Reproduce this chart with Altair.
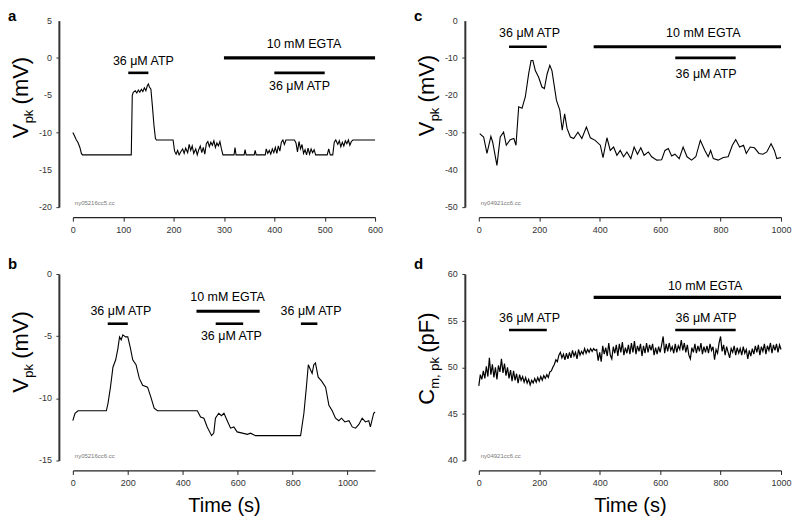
import altair as alt
import pandas as pd

FONT = "Liberation Sans"

# ---------------- Panel a : Vpk (mV), 0-600 s ----------------
a_time = [0, 3, 7, 10, 14, 17, 19, 116, 118, 120, 124, 127, 130, 133, 136, 139, 142, 145, 148, 150,
          152, 155, 158, 161, 164, 166, 199, 202, 205, 208, 211, 214, 218, 221, 224, 228, 231, 234,
          237, 240, 244, 247, 250, 253, 256, 259, 262, 265, 268, 271, 274, 277, 280, 283, 286, 289,
          292, 295, 298, 320, 322, 324, 340, 342, 344, 360, 362, 364, 382, 384, 387, 390, 393, 396,
          399, 402, 405, 408, 411, 414, 417, 420, 423, 440, 443, 446, 449, 452, 455, 458, 461, 464,
          467, 470, 473, 476, 479, 482, 505, 508, 511, 516, 519, 522, 526, 529, 532, 535, 538, 541,
          544, 547, 550, 553, 556, 600]
a_vpk = [-10.0, -10.4, -11.0, -11.3, -12.0, -12.8, -13.0, -13.0, -5.0, -4.6, -4.4, -4.7, -4.3, -4.6,
         -4.2, -4.5, -4.0, -4.4, -3.7, -3.5, -3.9, -4.2, -6.5, -9.0, -10.8, -11.0, -11.0, -12.5, -12.9,
         -12.4, -13.0, -12.6, -12.2, -12.8, -12.1, -12.7, -11.6, -12.4, -11.8, -12.8, -12.2, -13.0,
         -12.3, -11.8, -12.7, -12.0, -12.9, -11.5, -11.2, -11.9, -11.3, -11.7, -11.1, -12.0, -11.4,
         -11.8, -11.2, -12.2, -13.0, -13.0, -12.0, -13.0, -13.0, -12.3, -13.0, -13.0, -12.4, -13.0,
         -13.0, -12.2, -12.8, -12.4, -12.9, -12.2, -12.7, -12.0, -12.8, -11.8, -12.5, -11.3, -11.0,
         -11.6, -11.0, -11.0, -11.4, -12.6, -11.2, -12.2, -11.6, -12.8, -12.3, -13.0, -12.1, -12.9,
         -12.2, -12.7, -12.3, -13.0, -13.0, -12.2, -13.0, -13.0, -11.3, -11.0, -11.6, -11.1, -11.9,
         -11.3, -11.8, -11.1, -11.5, -11.0, -11.7, -11.2, -11.0, -11.0]
a_bar_start = [110, 300, 400]
a_bar_end = [150, 600, 500]
a_bar_level = [-2, 0, -2]
a_bar_kind = ["ATP", "EGTA", "ATP"]
a_label_text = ["36 \u03bcM ATP", "10 mM EGTA", "36 \u03bcM ATP"]
a_label_t = [140, 459, 450]
a_label_v = [-0.35, 1.9, -3.7]

# ---------------- Panel b : Vpk (mV), 0-1100 s ----------------
b_time = [0, 8, 19, 122, 128, 137, 146, 156, 164, 170, 176, 182, 192, 200, 209, 218, 230, 242, 254,
          272, 284, 296, 308, 441, 453, 465, 477, 489, 505, 513, 519, 531, 541, 550, 562, 574, 586,
          598, 617, 635, 647, 665, 829, 841, 850, 857, 865, 871, 877, 883, 893, 905, 920, 932, 944,
          956, 968, 978, 990, 1005, 1017, 1029, 1041, 1053, 1065, 1077, 1083, 1095, 1100]
b_vpk = [-11.8, -11.2, -11.0, -11.0, -10.4, -9.1, -7.5, -6.9, -6.0, -5.06, -5.3, -4.9, -5.06, -5.06,
         -5.9, -6.9, -7.3, -8.4, -8.95, -9.1, -9.9, -10.8, -11.0, -11.0, -11.0, -11.5, -11.6, -12.3,
         -13.0, -12.8, -11.6, -11.2, -11.4, -11.2, -11.8, -12.4, -12.3, -12.7, -12.8, -12.9, -12.8,
         -13.0, -13.0, -11.2, -9.1, -7.3, -7.7, -8.0, -7.3, -7.15, -8.3, -8.6, -9.1, -10.56, -11.0,
         -11.6, -11.8, -11.6, -11.9, -11.8, -12.3, -12.4, -12.1, -11.6, -11.9, -11.8, -12.3, -11.2,
         -11.1]
b_bar_start = [127, 450, 520, 830]
b_bar_end = [200, 680, 620, 890]
b_bar_level = [-4, -3, -4, -4]
b_bar_kind = ["ATP", "EGTA", "ATP", "ATP"]
b_label_text = ["36 \u03bcM ATP", "10 mM EGTA", "36 \u03bcM ATP", "36 \u03bcM ATP"]
b_label_t = [175, 563, 577, 867]
b_label_v = [-3.0, -1.85, -5.0, -3.0]

# ---------------- Panel c : Vpk (mV), 0-1000 s ----------------
c_time = [3, 16, 27, 40, 46, 60, 71, 82, 91, 104, 116, 123, 132, 143, 154, 165, 173, 179, 187, 198,
          209, 217, 226, 235, 242, 257, 268, 276, 284, 292, 303, 314, 328, 341, 356, 369, 385, 402,
          411, 424, 435, 446, 457, 468, 479, 490, 503, 514, 525, 536, 547, 561, 572, 589, 605, 616,
          627, 638, 649, 663, 676, 689, 704, 718, 733, 748, 759, 767, 776, 792, 809, 825, 839, 850,
          863, 876, 885, 898, 912, 927, 940, 953, 967, 978, 986, 1000]
c_vpk = [-30.3, -31.2, -35.6, -31.0, -32.6, -38.8, -31.2, -29.9, -33.4, -31.9, -31.6, -33.4, -23.1,
         -23.5, -20.4, -14.2, -10.7, -10.7, -13.4, -15.2, -17.8, -18.2, -14.3, -12.0, -13.4, -21.4,
         -24.0, -29.4, -25.0, -28.9, -31.2, -31.6, -29.9, -31.6, -28.5, -31.4, -32.1, -33.4, -36.7,
         -31.4, -34.8, -33.9, -36.1, -34.8, -36.5, -35.2, -37.0, -33.9, -35.8, -34.1, -36.1, -35.2,
         -36.5, -37.4, -37.3, -34.8, -34.3, -36.3, -35.8, -37.0, -33.9, -36.5, -37.4, -36.5, -32.1,
         -34.8, -36.5, -34.8, -37.0, -37.4, -36.7, -36.5, -33.4, -31.9, -33.9, -33.4, -35.6, -33.9,
         -34.1, -35.6, -35.8, -35.2, -33.0, -34.8, -37.0, -36.7]
c_bar_start = [100, 380, 650]
c_bar_end = [225, 1000, 850]
c_bar_level = [-7, -7, -10]
c_bar_kind = ["ATP", "EGTA", "ATP"]
c_label_text = ["36 \u03bcM ATP", "10 mM EGTA", "36 \u03bcM ATP"]
c_label_t = [168, 743, 752]
c_label_v = [-3.2, -3.2, -14.4]

# ---------------- Panel d : Cm,pk (pF), 0-1000 s ----------------
d_time = [0, 5, 10, 15, 20, 25, 30, 35, 40, 45, 50, 55, 60, 65, 70, 75, 80, 85, 90, 95,
          100, 105, 110, 115, 120, 125, 130, 135, 140, 145, 150, 155, 160, 165, 170, 175, 180, 185, 190, 195,
          200, 205, 210, 215, 220, 225, 230, 235, 240, 245, 250, 255, 260, 265, 270, 275, 280, 285, 290, 295,
          300, 305, 310, 315, 320, 325, 330, 335, 340, 345, 350, 355, 360, 365, 370, 375, 380, 385, 390, 395,
          400, 405, 410, 415, 420, 425, 430, 435, 440, 445, 450, 455, 460, 465, 470, 475, 480, 485, 490, 495,
          500, 505, 510, 515, 520, 525, 530, 535, 540, 545, 550, 555, 560, 565, 570, 575, 580, 585, 590, 595,
          600, 605, 610, 615, 620, 625, 630, 635, 640, 645, 650, 655, 660, 665, 670, 675, 680, 685, 690, 695,
          700, 705, 710, 715, 720, 725, 730, 735, 740, 745, 750, 755, 760, 765, 770, 775, 780, 785, 790, 795,
          800, 805, 810, 815, 820, 825, 830, 835, 840, 845, 850, 855, 860, 865, 870, 875, 880, 885, 890, 895,
          900, 905, 910, 915, 920, 925, 930, 935, 940, 945, 950, 955, 960, 965, 970, 975, 980, 985, 990, 995,
          1000]
d_cm = [48.0, 49.2, 48.7, 49.6, 48.8, 50.1, 49.0, 51.0, 49.2, 50.3, 48.9, 50.0, 48.7, 50.2, 49.5, 50.9, 49.4, 50.4, 49.1, 50.0,
        48.8, 49.7, 48.5, 49.6, 48.6, 49.3, 48.3, 49.2, 48.6, 49.0, 48.4, 48.9, 48.3, 48.7, 48.1, 48.6, 48.3, 48.8, 48.4, 48.9,
        48.5, 49.0, 48.6, 49.1, 48.8, 49.2, 48.9, 49.5, 49.6, 50.0, 50.3, 50.8, 50.6, 51.3, 51.6, 51.0, 51.4, 50.8, 51.5, 50.9,
        51.6, 51.0, 51.8, 51.2, 51.6, 50.9, 51.9, 51.3, 51.7, 51.4, 52.0, 51.5, 51.9, 51.6, 52.0, 51.7, 52.0, 51.8, 51.9, 50.7,
        51.6, 50.6, 52.3, 51.4, 52.1, 51.2, 52.6, 51.3, 50.9, 52.2, 51.5, 52.4, 51.2, 52.5, 51.6, 52.7, 51.3, 52.1, 51.5, 52.4,
        51.4, 52.6, 51.6, 52.8, 51.4, 52.3, 51.7, 52.5, 51.2, 52.3, 51.5, 52.6, 51.6, 52.4, 51.8, 52.5, 51.3, 52.1, 51.4, 52.2,
        51.6, 52.4, 53.3, 51.5, 52.5, 51.7, 52.6, 51.8, 52.2, 51.5, 52.5, 51.6, 52.3, 51.9, 52.9, 51.8, 52.6, 51.6, 52.4, 51.3,
        50.9, 52.1, 51.6, 52.5, 51.5, 52.3, 51.7, 52.6, 51.4, 52.2, 51.6, 52.3, 51.5, 52.5, 51.8, 52.2, 50.8, 51.9, 51.5, 52.6,
        53.3, 51.7, 52.4, 51.3, 52.2, 51.6, 51.0, 52.0, 51.6, 52.3, 51.3, 52.1, 51.5, 52.0, 51.3, 52.2, 51.5, 51.9, 50.9, 51.8,
        51.2, 52.0, 51.4, 52.3, 51.6, 52.4, 51.3, 52.2, 51.7, 52.5, 51.4, 52.3, 51.8, 52.6, 51.5, 52.4, 51.8, 52.5, 51.6, 52.4,
        51.9]
d_bar_start = [100, 380, 650]
d_bar_end = [225, 1000, 850]
d_bar_level = [54, 57.5, 54]
d_bar_kind = ["ATP", "EGTA", "ATP"]
d_label_text = ["36 \u03bcM ATP", "10 mM EGTA", "36 \u03bcM ATP"]
d_label_t = [168, 749, 752]
d_label_v = [55.3, 58.7, 55.3]

W, H = 303, 187
LABEL_EXPR = "'' + datum.value"


def panel(time, vals, xdom, xvals, ydom, yvals, bs, be, bl, bk, lt, lx, ly,
          letter, letter_top, fid, ytitle, ybottom, xtitle, line_w=1.1):
    xs = alt.Scale(domain=xdom, nice=False, zero=False)
    ys = alt.Scale(domain=ydom, nice=False, zero=False)
    xaxis_kw = dict(values=xvals, offset=10, domainWidth=1.3, domainColor="#222",
                    tickColor="#222", tickSize=4, tickWidth=1, labelFontSize=9,
                    labelColor="#333", labelFont=FONT, labelPadding=4, labelFlush=False,
                    labelOverlap=False, grid=False, labelExpr=LABEL_EXPR)
    if xtitle:
        xaxis_kw.update(title=xtitle, titleFontSize=20, titleFont=FONT, titleFontWeight="normal",
                        titleColor="black", titlePadding=8)
    else:
        xaxis_kw.update(title=None)
    yaxis = alt.Axis(values=yvals, offset=14, domainWidth=2, domainColor="#333",
                     tickColor="#333", tickSize=3, tickWidth=1, labels=False,
                     grid=False, title=None)

    trace = alt.Chart(pd.DataFrame({"t": time, "v": vals})).mark_line(
        color="black", strokeWidth=line_w).encode(
        x=alt.X("t:Q", scale=xs, axis=alt.Axis(**xaxis_kw)),
        y=alt.Y("v:Q", scale=ys, axis=yaxis))

    bars = alt.Chart(pd.DataFrame({"t": bs, "t2": be, "v": bl, "kind": bk})).mark_rule(
        color="black").encode(
        x=alt.X("t:Q", scale=xs), x2="t2:Q", y=alt.Y("v:Q", scale=ys),
        strokeWidth=alt.StrokeWidth("kind:N", scale=alt.Scale(domain=["ATP", "EGTA"], range=[2.6, 3.2]),
                                    legend=None))

    labels = alt.Chart(pd.DataFrame({"t": lx, "v": ly, "label": lt})).mark_text(
        font=FONT, fontSize=12.5, color="black", align="center", baseline="middle").encode(
        x=alt.X("t:Q", scale=xs), y=alt.Y("v:Q", scale=ys), text="label:N")

    # y tick labels (drawn as text so that every tick keeps its label)
    ylabels = alt.Chart(pd.DataFrame({"v": yvals, "lab": [str(v) for v in yvals]})).mark_text(
        font=FONT, fontSize=9, color="#333", align="right", baseline="middle").encode(
        x=alt.value(-21), y=alt.Y("v:Q", scale=ys), text="lab:N")

    layers = [trace, bars, labels, ylabels]

    letter_l = alt.Chart(pd.DataFrame({"s": [letter]})).mark_text(
        font=FONT, fontSize=15, fontWeight="bold", align="left", baseline="top",
        color="black").encode(x=alt.value(-65), y=alt.value(letter_top), text="s:N")
    layers.append(letter_l)

    fid_l = alt.Chart(pd.DataFrame({"s": [fid]})).mark_text(
        font=FONT, fontSize=6, align="left", baseline="bottom", color="#777").encode(
        x=alt.value(2), y=alt.value(H - 1), text="s:N")
    layers.append(fid_l)

    for txt, size, dx, dy in ytitle:
        layers.append(alt.Chart(pd.DataFrame({"s": [txt]})).mark_text(
            font=FONT, fontSize=size, angle=270, align="left", baseline="alphabetic",
            color="black", dx=dx, dy=dy).encode(x=alt.value(-45), y=alt.value(ybottom), text="s:N"))

    return alt.layer(*layers).properties(width=W, height=H)


vpk_title = [("V", 22, 0, 0), ("pk", 13, 15, 5), ("(mV)", 22, 34, 0)]
cm_title = [("C", 22, 0, 0), ("m, pk", 13, 16, 5), ("(pF)", 22, 52, 0)]

pa = panel(a_time, a_vpk, [0, 600], [0, 100, 200, 300, 400, 500, 600], [-20, 5],
           [-20, -15, -10, -5, 0, 5], a_bar_start, a_bar_end, a_bar_level, a_bar_kind,
           a_label_text, a_label_t, a_label_v, "a", -12, "ny05216cc5.cc", vpk_title, 118, None)
pc = panel(c_time, c_vpk, [0, 1000], [0, 200, 400, 600, 800, 1000], [-50, 0],
           [-50, -40, -30, -20, -10, 0], c_bar_start, c_bar_end, c_bar_level, c_bar_kind,
           c_label_text, c_label_t, c_label_v, "c", -12, "ny04921cc6.cc", vpk_title, 116, None)
pb = panel(b_time, b_vpk, [0, 1100], [0, 200, 400, 600, 800, 1000], [-15, 0],
           [-15, -10, -5, 0], b_bar_start, b_bar_end, b_bar_level, b_bar_kind,
           b_label_text, b_label_t, b_label_v, "b", -17, "ny05216cc6.cc", vpk_title, 119, "Time (s)")
pd_ = panel(d_time, d_cm, [0, 1000], [0, 200, 400, 600, 800, 1000], [40, 60],
            [40, 45, 50, 55, 60], d_bar_start, d_bar_end, d_bar_level, d_bar_kind,
            d_label_text, d_label_t, d_label_v, "d", -17, "ny04921cc6.cc", cm_title, 131, "Time (s)",
            line_w=1.2)

chart = alt.concat(pa, pc, pb, pd_, columns=2).properties(
    spacing=alt.RowColnumber(row=67, column=104), bounds="flush",
    padding=0, background="white").configure_view(stroke=None)

chart.save("out.html", embed_options={"renderer": "svg", "actions": False})
